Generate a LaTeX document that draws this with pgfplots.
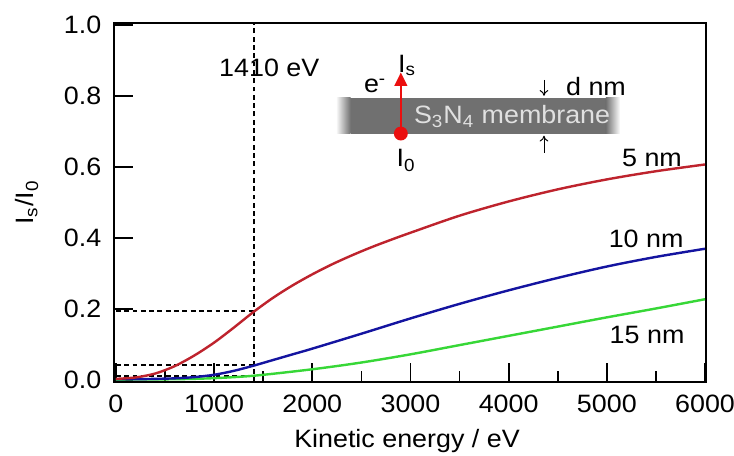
\documentclass[border=0pt]{standalone}
\usepackage{fontspec}
\setmainfont{Liberation Sans}[FakeStretch=1.07]
\usepackage{pgfplots}
\pgfplotsset{compat=1.18}
\usetikzlibrary{arrows.meta}

\definecolor{c5}{RGB}{190,35,45}
\definecolor{c10}{RGB}{20,20,160}
\definecolor{c15}{RGB}{55,215,55}
\definecolor{band}{RGB}{112,112,112}
\definecolor{arr}{RGB}{235,15,15}

\begin{document}
\fontsize{13}{15}\selectfont
\begin{tikzpicture}
\begin{axis}[
  scale only axis, width=306.5pt, height=185.9pt,
  xmin=-20, xmax=6010, ymin=-0.005, ymax=1.005,
  axis line style={line width=0.9pt},
  xtick={0,1000,2000,3000,4000,5000,6000},
  minor xtick={500,1500,2500,3500,4500,5500},
  ytick={0,0.2,0.4,0.6,0.8,1.0},
  xtick pos=bottom, ytick pos=left, tick align=inside,
  major tick length=10pt, minor tick length=5.5pt,
  tick style={black, line width=0.9pt},
  /pgf/number format/assume math mode=true,
  x tick label style={/pgf/number format/1000 sep={}, yshift=-2pt},
  y tick label style={/pgf/number format/.cd, fixed, fixed zerofill, precision=1, /tikz/.cd, xshift=-2pt},
  xlabel={Kinetic energy / eV},
  ylabel={I\textsubscript{s}/I\textsubscript{0}},
  xlabel style={at={(axis description cs:0.495,-0.165)}, anchor=center},
  ylabel style={at={(axis description cs:-0.147,0.5)}, anchor=center},
]
% guide lines at 1410 eV
\addplot[black, line width=1pt, dash pattern=on 2.5pt off 1.8pt] coordinates {(1410,-0.005) (1410,1.005)};
\addplot[black, line width=1pt, dash pattern=on 2.5pt off 1.8pt] coordinates {(0,0.195) (1410,0.195)};
\addplot[black, line width=1pt, dash pattern=on 2.5pt off 1.8pt] coordinates {(0,0.042) (1410,0.042)};
\addplot[black, line width=1pt, dash pattern=on 2.5pt off 1.8pt] coordinates {(0,0.013) (1410,0.013)};

% 15 nm
\addplot[c15, line width=1.25pt, smooth] coordinates {
  (0,0.002) (600,0.003) (1000,0.006) (1410,0.013) (2000,0.031) (2500,0.050)
  (3000,0.073) (3500,0.099) (4000,0.125) (4500,0.151) (5000,0.177) (5500,0.202) (6000,0.228)
};
% 10 nm
\addplot[c10, line width=1.25pt, smooth] coordinates {
  (0,0.003) (200,0.003) (400,0.004) (600,0.0055) (800,0.009) (1000,0.0155) (1200,0.0265)
  (1400,0.041) (1600,0.057) (1800,0.073) (2000,0.089) (2500,0.131) (3000,0.174)
  (3500,0.215) (4000,0.253) (4500,0.288) (5000,0.320) (5500,0.347) (6000,0.370)
};
% 5 nm
\addplot[c5, line width=1.25pt, smooth] coordinates {
  (0,0.004) (200,0.008) (400,0.019) (600,0.040) (800,0.070) (1000,0.106)
  (1200,0.148) (1400,0.192) (1600,0.232) (1800,0.267) (2000,0.298) (2200,0.326)
  (2400,0.351) (2600,0.374) (2800,0.395) (3000,0.415) (3500,0.463) (4000,0.503)
  (4500,0.537) (5000,0.565) (5500,0.588) (6000,0.607)
};

\node at (axis cs:1562,0.879) {1410 eV};
\node at (axis cs:5460,0.625) {5 nm};
\node at (axis cs:5400,0.398) {10 nm};
\node at (axis cs:5410,0.128) {15 nm};

% inset: membrane sketch
\shade[left color=white, right color=band] (axis cs:2240,0.694) rectangle (axis cs:2390,0.794);
\fill[band] (axis cs:2390,0.694) rectangle (axis cs:4990,0.794);
\shade[left color=band, right color=white] (axis cs:4990,0.694) rectangle (axis cs:5135,0.794);
\node[text=white!88!black] at (axis cs:4035,0.741) {S\textsubscript{3}N\textsubscript{4} membrane};
\draw[arr, line width=1.2pt, -{Triangle[length=7pt,width=6.5pt]}] (axis cs:2902,0.694) -- (axis cs:2902,0.866);
\fill[arr] (axis cs:2902,0.694) circle (3.6pt);
\node[anchor=base west, inner sep=0pt] at (axis cs:2870,0.866) {I\textsubscript{s}};
\node at (axis cs:2640,0.828) {e\textsuperscript{-}};
\node at (axis cs:2955,0.618) {I\textsubscript{0}};
\draw[line width=0.5pt, -{To[length=3pt,width=4.5pt]}] (axis cs:4360,0.845) -- (axis cs:4360,0.800);
\draw[line width=0.5pt, -{To[length=3pt,width=4.5pt]}] (axis cs:4360,0.640) -- (axis cs:4360,0.688);
\node at (axis cs:4890,0.825) {d nm};
\end{axis}
\pgfresetboundingbox
\path ([xshift=-59pt,yshift=-37.8pt]current axis.south west) rectangle ([xshift=14.5pt,yshift=11.9pt]current axis.north east);
\end{tikzpicture}
\end{document}
